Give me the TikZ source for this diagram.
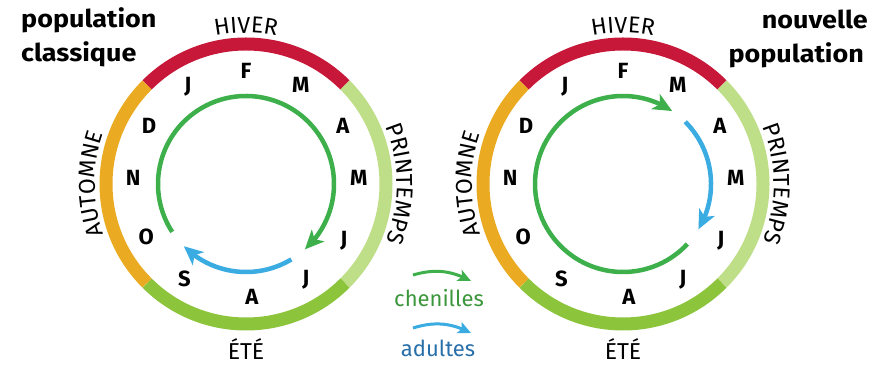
\documentclass[tikz,border=0pt]{standalone}
\usepackage{fontspec}
\setmainfont{Fira Sans}
\newfontfamily\titlefont{Fira Sans}[FakeStretch=1.1]
\usetikzlibrary{arrows.meta,bending,decorations.text}
\definecolor{ringred}{RGB}{200,24,58}
\definecolor{ringorange}{RGB}{234,171,35}
\definecolor{ringlight}{RGB}{190,222,135}
\definecolor{ringgreen}{RGB}{140,196,60}
\definecolor{cgreen}{RGB}{62,176,75}
\definecolor{cblue}{RGB}{58,172,226}
\definecolor{tgreen}{RGB}{60,150,60}
\definecolor{tblue}{RGB}{40,112,170}
\newcommand\seasonfont{\fontsize{23}{23}\selectfont}
\begin{document}
\begin{tikzpicture}[x=1pt,y=1pt,
  ring/.style={line width=13pt},
  month/.style={font=\bfseries\fontsize{22}{22}\selectfont, inner sep=0pt},
  season/.style={font=\seasonfont, inner sep=0pt},
  title/.style={font=\titlefont\bfseries\fontsize{24.5}{24.5}\selectfont, inner sep=0pt},
  legtext/.style={font=\fontsize{22}{22}\selectfont, inner sep=0pt},
  cyc/.style={line width=4.5pt, -{Stealth[length=19pt,width=17pt,inset=5pt]}},
  legarrow/.style={line width=3pt, -{Stealth[length=13pt,width=12pt,inset=3pt]}},
  seasontext/.style={decorate, decoration={text along path, text align=center, text={|\seasonfont|#1}}}
]
\useasboundingbox (0,0) rectangle (872,366);
\fill[white] (0,0) rectangle (872,366);

\coordinate (L) at (246,182);
\coordinate (R) at (623,182);

\foreach \c in {L,R} {
  \draw[ring, ringred]    ([shift={(135:140)}]\c) arc[start angle=135, end angle=45, radius=140];
  \draw[ring, ringlight]  ([shift={(45:140)}]\c)  arc[start angle=45, end angle=-45, radius=140];
  \draw[ring, ringgreen]  ([shift={(-45:140)}]\c) arc[start angle=-45, end angle=-135, radius=140];
  \draw[ring, ringorange] ([shift={(225:140)}]\c) arc[start angle=225, end angle=135, radius=140];
  \foreach \m/\a [count=\i] in {J/121,F/90,M/61,A/31,M/3,J/-30,J/-58,A/-87,S/-123,O/-152,N/177,D/149} {
    \node[month] (\c m\i) at ([shift={(\a:113)}]\c) {\m};
  }
  \path[seasontext=HIVER] ([shift={(125:151)}]\c) arc[start angle=125, end angle=55, radius=151];
  \path[seasontext=AUTOMNE] ([shift={(210:151)}]\c) arc[start angle=210, end angle=150, radius=151];
  \path[seasontext=PRINTEMPS] ([shift={(32:151)}]\c) arc[start angle=32, end angle=-32, radius=151];
  \node[season, anchor=base] (\c ete) at ([yshift=-176]\c) {ÉTÉ};
}

% cycles
\draw[cyc, cgreen] ([shift={(213:88)}]L) arc[start angle=213, end angle=-48, radius=88];
\draw[cyc, cblue]  ([shift={(-59:88)}]L) arc[start angle=-59, end angle=-135, radius=88];
\draw[cyc, cgreen] ([shift={(-43:88)}]R) arc[start angle=-43, end angle=-304, radius=88];
\draw[cyc, cblue]  ([shift={(45:88)}]R)  arc[start angle=45, end angle=-31, radius=88];

% titles
\node[title, anchor=base west] (t1) at (21,338) {population};
\node[title, anchor=base west] (t2) at (21,304) {classique};
\node[title, anchor=base east] (t3) at (868,337) {nouvelle};
\node[title, anchor=base east] (t4) at (864,303) {population};

% legend
\coordinate (g1) at (413,91);
\coordinate (g2) at (471,85);
\coordinate (b1) at (413,38);
\coordinate (b2) at (471,33);
\draw[legarrow, cgreen] (g1) to[bend left=22] (g2);
\draw[legarrow, cblue] (b1) to[bend left=22] (b2);
\node[legtext, text=tgreen, anchor=base] (chen) at (439,59) {chenilles};
\node[legtext, text=tblue, anchor=base] (adu) at (438,9) {adultes};
\end{tikzpicture}
\end{document}
